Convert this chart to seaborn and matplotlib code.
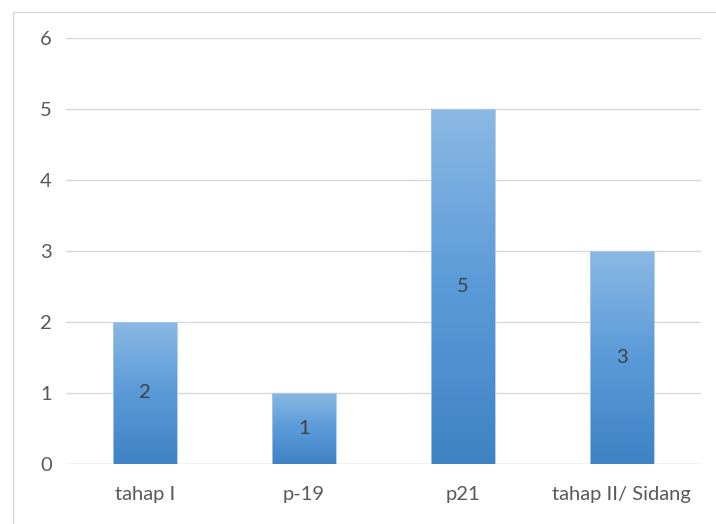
import numpy as np
import pandas as pd
import matplotlib.pyplot as plt
import seaborn as sns
from matplotlib.colors import LinearSegmentedColormap
from matplotlib.patches import Rectangle

tahap = ['tahap I', 'p-19', 'p21', 'tahap II/ Sidang']
jumlah = [2, 1, 5, 3]

df = pd.DataFrame({'Tahap': tahap, 'Jumlah': jumlah})

sns.set_theme(style="white")
plt.rcParams['font.family'] = ['Lato', 'DejaVu Sans']

fig = plt.figure(figsize=(7.16, 5.24), dpi=100)
ax = fig.add_axes([0.0915, 0.1145, 0.888, 0.813])

ax = sns.barplot(data=df, x='Tahap', y='Jumlah', width=0.40, color='#5b9bd5', ax=ax)

# gradien vertikal di tiap batang
cmap = LinearSegmentedColormap.from_list('grad', ['#3f83c5', '#5a9ad8', '#8bb9e3'])
grad = np.linspace(0, 1, 256).reshape(-1, 1)
for bar in ax.patches:
    x0, y0 = bar.get_x(), bar.get_y()
    w, h = bar.get_width(), bar.get_height()
    im = ax.imshow(grad, cmap=cmap, origin='lower', aspect='auto',
                   extent=[x0, x0 + w, y0, y0 + h], zorder=2)
    im.set_clip_path(bar)
    bar.set_facecolor('none')
    bar.set_edgecolor('#a9c9ea')
    bar.set_linewidth(0.6)
    bar.set_zorder(3)
    ax.text(x0 + w / 2, y0 + h / 2, f'{int(h)}', ha='center', va='center',
            fontsize=14.5, color='#404040', zorder=4)

ax.set_xlim(-0.5, 3.5)
ax.set_ylim(0, 6)
ax.set_yticks(range(0, 7))
ax.yaxis.grid(True, color='#d9d9d9', linewidth=1)
ax.set_axisbelow(True)
for s in ax.spines.values():
    s.set_visible(False)
ax.axhline(0, color='#d9d9d9', linewidth=1, zorder=1)
ax.set_xlabel('')
ax.set_ylabel('')
ax.tick_params(axis='both', length=0, labelsize=14.5, colors='#595959')
ax.tick_params(axis='y', pad=10)
ax.tick_params(axis='x', pad=16)

fig.patches.append(Rectangle((13 / 716, -0.1), 1.1, 1 - 12 / 524 + 0.1,
                             transform=fig.transFigure, fill=False,
                             edgecolor='#d9d9d9', linewidth=1))

plt.savefig('out.png', dpi=100)
